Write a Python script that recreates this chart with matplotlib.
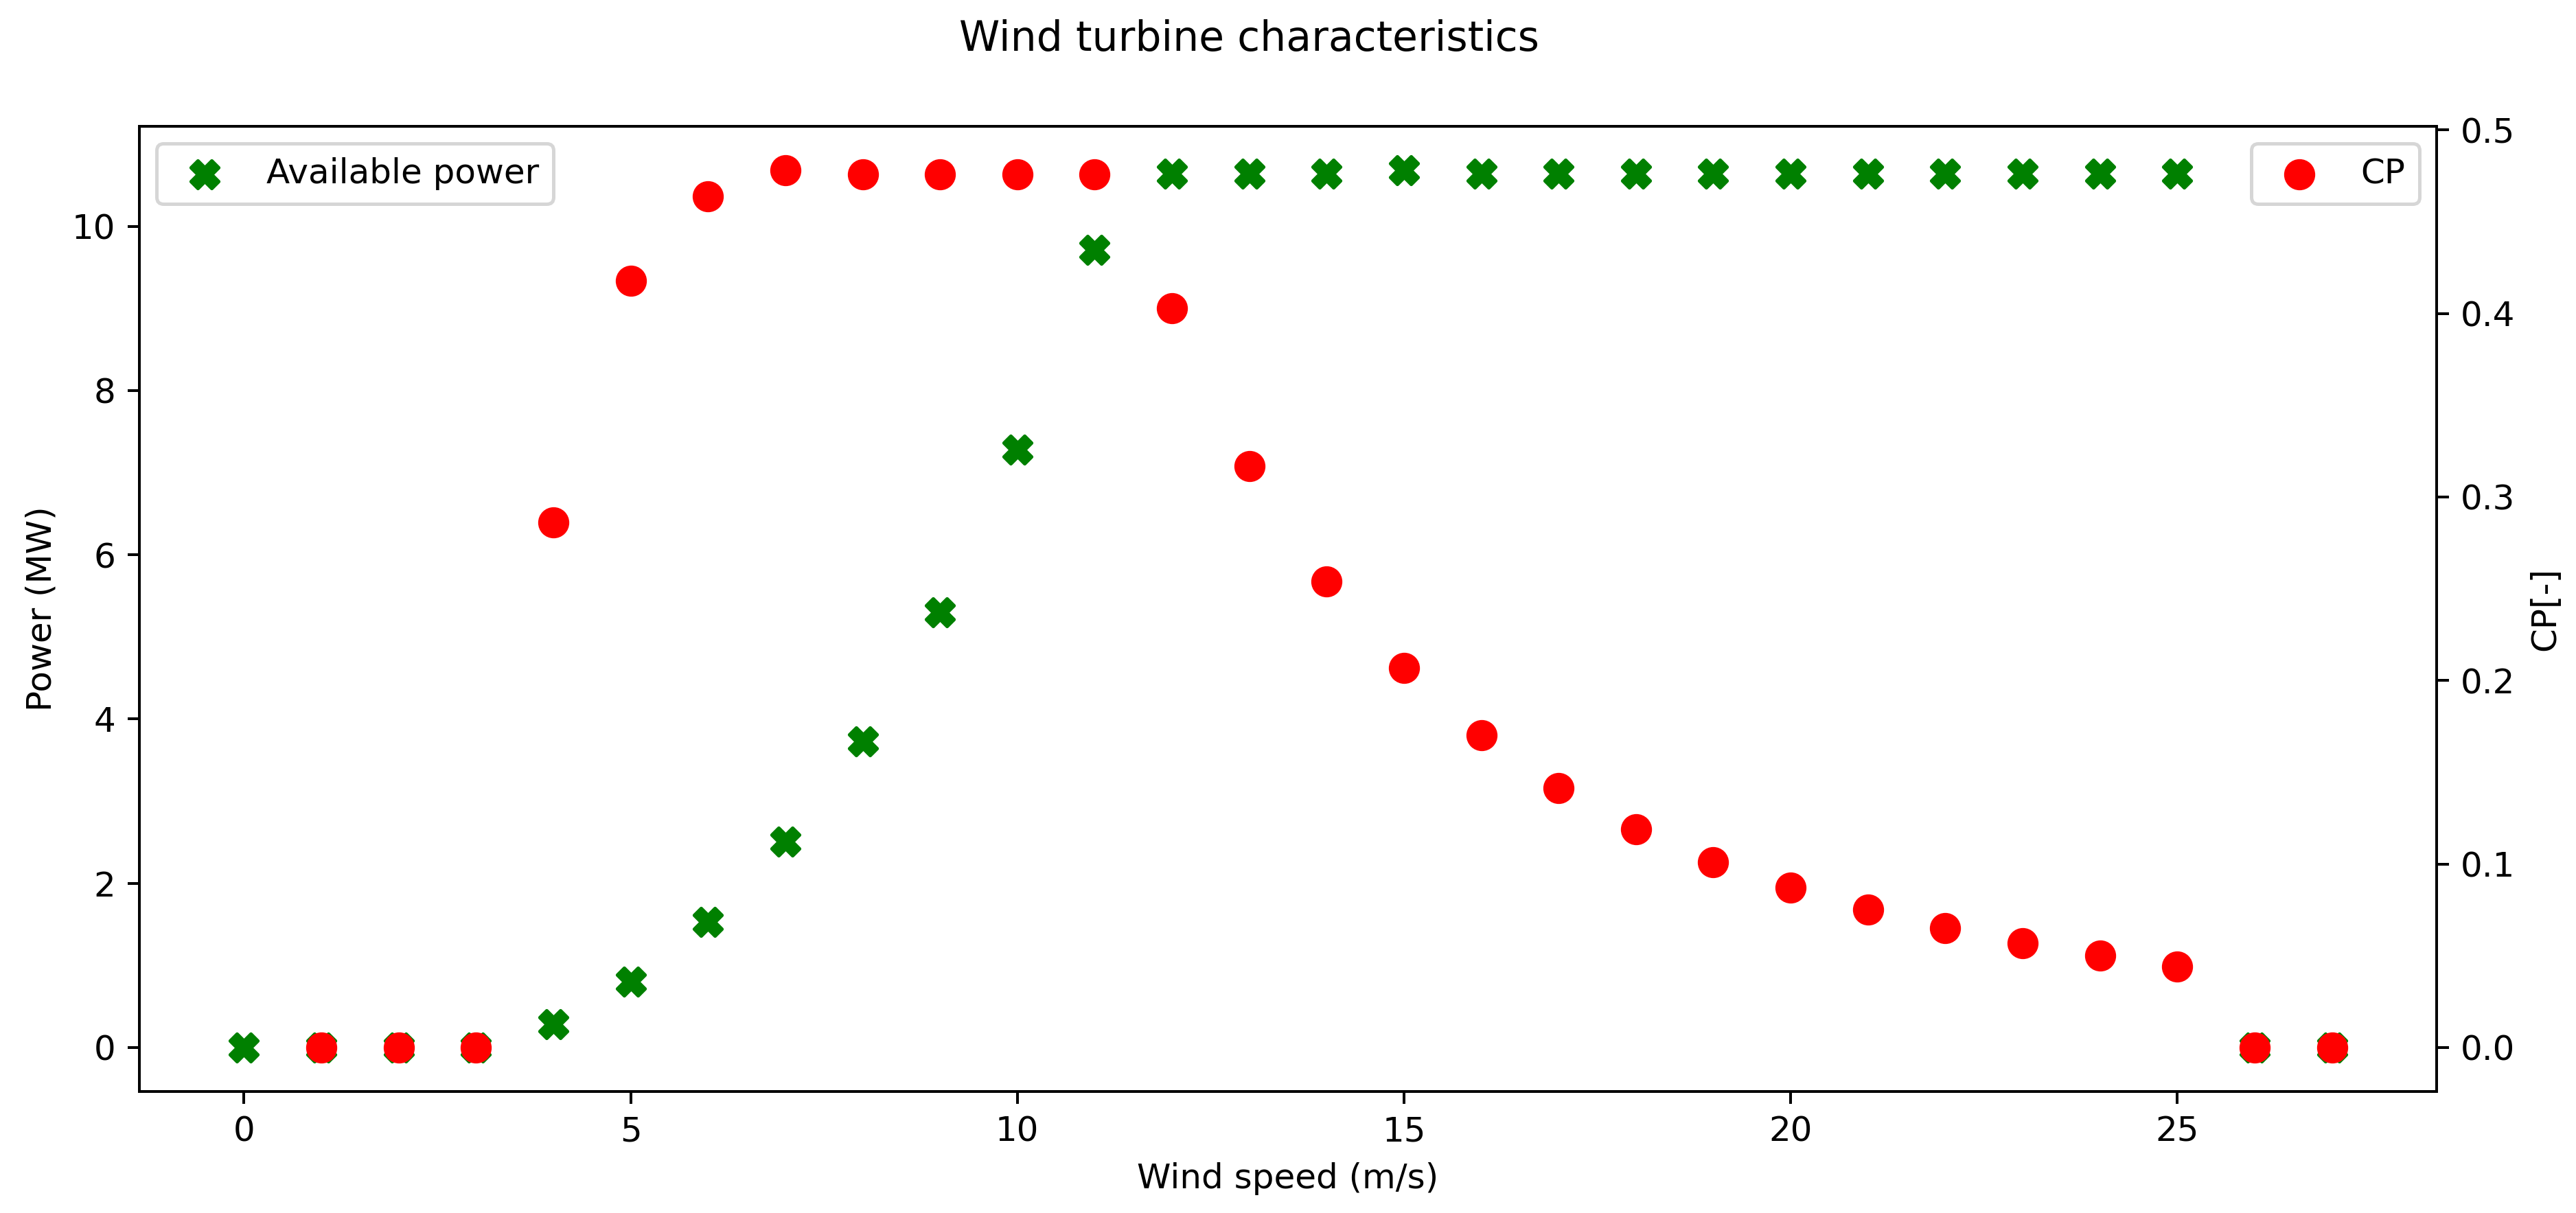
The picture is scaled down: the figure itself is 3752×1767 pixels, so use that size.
import matplotlib
matplotlib.use('Agg')
import matplotlib.pyplot as plt
import numpy as np

wind_speed = list(range(28))
power_mw = [0, 0, 0, 0, 0.28, 0.80, 1.53, 2.51, 3.73, 5.30, 7.28, 9.71,
            10.64, 10.64, 10.64, 10.68, 10.64, 10.64, 10.64, 10.64, 10.64,
            10.64, 10.64, 10.64, 10.64, 10.64, 0, 0]
cp = [np.nan, 0, 0, 0, 0.286, 0.418, 0.464, 0.478, 0.476, 0.476, 0.476, 0.476,
      0.403, 0.317, 0.254, 0.207, 0.170, 0.1415, 0.119, 0.101, 0.087,
      0.075, 0.065, 0.057, 0.050, 0.044, 0, 0]

fig, ax = plt.subplots(figsize=(3752 / 360, 1767 / 360), dpi=360)
fig.subplots_adjust(left=0.0542, right=0.9458, top=0.8957, bottom=0.1003)

ax.scatter(wind_speed, power_mw, marker='X', s=65, color='green', label='Available power')
ax.set_xlabel('Wind speed (m/s)')
ax.set_ylabel('Power (MW)')
ax.legend(loc='upper left')

ax2 = ax.twinx()
ax2.scatter(wind_speed, cp, marker='o', s=65, color='red', label='CP')
ax2.set_ylabel('CP[-]')
ax2.legend(loc='upper right')

fig.suptitle('Wind turbine characteristics', x=0.485, y=0.984)

fig.savefig('out.png', dpi=360)
